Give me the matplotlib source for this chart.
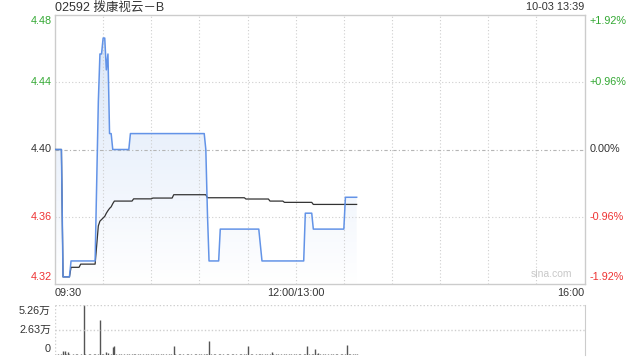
import numpy as np
import matplotlib
matplotlib.use("Agg")
import matplotlib.pyplot as plt
from matplotlib.colors import LinearSegmentedColormap
import matplotlib.transforms as mtransforms

# ---------------- data ----------------
title = "02592 拨康视云－B"
stamp = "10-03 13:39"
prev_close = 4.40
price_ticks = ["4.48", "4.44", "4.40", "4.36", "4.32"]
pct_ticks = ["+1.92%", "+0.96%", "0.00%", "-0.96%", "-1.92%"]
pct_steps = [0.0192, 0.0096, 0.0, -0.0096, -0.0192]
time_labels = ["09:30", "12:00/13:00", "16:00"]
time_pos = [0, 150, 330]          # trading minutes since 09:30
vol_ticks = ["5.26万", "2.63万", "0"]
vol_tick_vals = [5.26, 2.63, 0.0]

price = [
    4.40, 4.40, 4.40, 4.40, 4.40, 4.32, 4.32, 4.32, 4.32, 4.32,
    4.33, 4.33, 4.33, 4.33, 4.33, 4.33, 4.33, 4.33, 4.33, 4.33,
    4.33, 4.33, 4.33, 4.33, 4.33, 4.33, 4.38, 4.43, 4.46, 4.46,
    4.47, 4.47, 4.45, 4.46, 4.41, 4.41, 4.40, 4.40, 4.40, 4.40,
    4.40, 4.40, 4.40, 4.40, 4.40, 4.40, 4.40, 4.41, 4.41, 4.41,
    4.41, 4.41, 4.41, 4.41, 4.41, 4.41, 4.41, 4.41, 4.41, 4.41,
    4.41, 4.41, 4.41, 4.41, 4.41, 4.41, 4.41, 4.41, 4.41, 4.41,
    4.41, 4.41, 4.41, 4.41, 4.41, 4.41, 4.41, 4.41, 4.41, 4.41,
    4.41, 4.41, 4.41, 4.41, 4.41, 4.41, 4.41, 4.41, 4.41, 4.41,
    4.41, 4.41, 4.41, 4.41, 4.40, 4.36, 4.33, 4.33, 4.33, 4.33,
    4.33, 4.33, 4.33, 4.35, 4.35, 4.35, 4.35, 4.35, 4.35, 4.35,
    4.35, 4.35, 4.35, 4.35, 4.35, 4.35, 4.35, 4.35, 4.35, 4.35,
    4.35, 4.35, 4.35, 4.35, 4.35, 4.35, 4.35, 4.35, 4.34, 4.33,
    4.33, 4.33, 4.33, 4.33, 4.33, 4.33, 4.33, 4.33, 4.33, 4.33,
    4.33, 4.33, 4.33, 4.33, 4.33, 4.33, 4.33, 4.33, 4.33, 4.33,
    4.33, 4.33, 4.33, 4.33, 4.33, 4.33, 4.36, 4.36, 4.36, 4.36,
    4.36, 4.35, 4.35, 4.35, 4.35, 4.35, 4.35, 4.35, 4.35, 4.35,
    4.35, 4.35, 4.35, 4.35, 4.35, 4.35, 4.35, 4.35, 4.35, 4.35,
    4.35, 4.37, 4.37, 4.37, 4.37, 4.37, 4.37, 4.37, 4.37,
]

avg_price = [
    4.400, 4.400, 4.400, 4.400, 4.400, 4.320, 4.320, 4.320, 4.320, 4.320,
    4.326, 4.326, 4.326, 4.326, 4.326, 4.326, 4.328, 4.328, 4.328, 4.328,
    4.328, 4.328, 4.328, 4.328, 4.328, 4.328, 4.340, 4.352, 4.355, 4.356,
    4.357, 4.358, 4.360, 4.3616, 4.363, 4.364, 4.366, 4.3676, 4.3676, 4.3676,
    4.3676, 4.3676, 4.3676, 4.3676, 4.3676, 4.3676, 4.3676, 4.3676, 4.3676, 4.369,
    4.369, 4.369, 4.369, 4.369, 4.369, 4.369, 4.369, 4.369, 4.369, 4.369,
    4.369, 4.3695, 4.3695, 4.3695, 4.3695, 4.3695, 4.3695, 4.3695, 4.3695, 4.3695,
    4.3695, 4.3695, 4.3695, 4.3695, 4.3716, 4.3716, 4.3716, 4.3716, 4.3716, 4.3716,
    4.3716, 4.3716, 4.3716, 4.3716, 4.3716, 4.3716, 4.3716, 4.3716, 4.3716, 4.3716,
    4.3716, 4.3716, 4.3716, 4.3716, 4.3716, 4.3697, 4.3697, 4.3697, 4.3697, 4.3697,
    4.3697, 4.3697, 4.3697, 4.3697, 4.3697, 4.3697, 4.3697, 4.3697, 4.3697, 4.3697,
    4.3697, 4.3697, 4.3697, 4.3697, 4.3697, 4.3697, 4.3697, 4.3697, 4.3697, 4.3689,
    4.3689, 4.3689, 4.3689, 4.3689, 4.3689, 4.3689, 4.3689, 4.3689, 4.3689, 4.3689,
    4.3689, 4.3689, 4.3689, 4.3689, 4.3676, 4.3676, 4.3676, 4.3676, 4.3676, 4.3676,
    4.3676, 4.3676, 4.3676, 4.3668, 4.3668, 4.3668, 4.3668, 4.3668, 4.3668, 4.3668,
    4.3668, 4.3668, 4.3668, 4.3668, 4.3668, 4.3668, 4.3668, 4.3668, 4.3668, 4.3668,
    4.3668, 4.3655, 4.3655, 4.3655, 4.3655, 4.3655, 4.3655, 4.3655, 4.3655, 4.3655,
    4.3655, 4.3655, 4.3655, 4.3655, 4.3655, 4.3655, 4.3655, 4.3655, 4.3655, 4.3655,
    4.3655, 4.3655, 4.3655, 4.3655, 4.3655, 4.3655, 4.3655, 4.3655, 4.3655,
]

volume = [  # 万股 per minute
    0.08, 0.0, 0.10, 0.0, 0.08, 0.46, 0.46, 0.10, 0.35, 0.08,
    0.0, 0.10, 0.0, 0.08, 0.10, 0.0, 0.08, 0.0, 5.26, 0.10,
    0.0, 0.08, 0.10, 0.0, 0.08, 0.10, 0.0, 0.10, 3.66, 0.10,
    0.15, 0.0, 0.28, 0.20, 0.0, 0.10, 0.89, 0.99, 0.10, 0.0,
    0.08, 0.10, 0.0, 0.08, 0.0, 0.10, 0.08, 0.0, 0.10, 0.08,
    0.12, 0.0, 0.10, 0.08, 0.0, 0.10, 0.0, 0.08, 0.10, 0.0,
    0.08, 0.10, 0.0, 0.14, 0.10, 0.0, 0.10, 0.08, 0.0, 0.10,
    0.0, 0.08, 0.10, 0.0, 0.99, 0.10, 0.0, 0.08, 0.10, 0.0,
    0.08, 0.0, 0.10, 0.08, 0.0, 0.10, 0.0, 0.08, 0.10, 0.0,
    0.08, 0.10, 0.0, 0.08, 0.10, 0.10, 1.45, 0.10, 0.0, 0.08,
    0.10, 0.0, 0.08, 0.10, 0.0, 0.08, 0.0, 0.10, 0.08, 0.0,
    0.10, 0.08, 0.0, 0.10, 0.0, 0.08, 0.10, 0.0, 0.08, 0.10,
    0.99, 0.0, 0.10, 0.08, 0.0, 0.10, 0.0, 0.08, 0.10, 0.10,
    0.0, 0.08, 0.10, 0.0, 0.08, 0.35, 0.10, 0.0, 0.08, 0.10,
    0.0, 0.08, 0.0, 0.10, 0.08, 0.0, 0.10, 0.08, 0.0, 0.10,
    0.08, 0.0, 0.10, 0.08, 0.0, 0.10, 0.10, 0.99, 0.10, 0.0,
    0.08, 0.10, 0.67, 0.10, 0.25, 0.08, 0.0, 0.10, 0.08, 0.0,
    0.10, 0.0, 0.08, 0.10, 0.0, 0.08, 0.10, 0.0, 0.08, 0.10,
    0.0, 0.10, 1.10, 0.08, 0.10, 0.0, 0.08, 0.10, 0.08,
]

# ---------------- style ----------------
FONT = ["Liberation Sans", "Noto Sans CJK SC", "DejaVu Sans"]
plt.rcParams["font.family"] = FONT
GREEN = "#33a833"
RED = "#ee3333"
DARK = "#333333"
GRID = "#cfcfcf"
BORDER = "#cccccc"
LINE = "#5b8ee6"
FS = 7.8

W, H = 640, 360
fig = plt.figure(figsize=(W / 100, H / 100), dpi=100)
fig.patch.set_facecolor("white")

def px_rect(l, t, r, b):
    return [l / W, 1 - b / H, (r - l) / W, (b - t) / H]

ax = fig.add_axes(px_rect(55, 15, 584.5, 284))
axv = fig.add_axes(px_rect(55, 305, 584.5, 355))

minutes = np.arange(len(price))
half = prev_close * 0.0192
ymin, ymax = prev_close - half, prev_close + half

# gradient fill under the price line
poly = ax.fill_between(minutes, price, ymin, facecolor="none", edgecolor="none", lw=0)
clip = poly.get_paths()[0]
cmap = LinearSegmentedColormap.from_list("g", ["#ffffff", "#d8e5f9"])
grad = np.linspace(1, 0, 256).reshape(-1, 1)
img = ax.imshow(grad, extent=[0, 330, ymin, ymax], aspect="auto", origin="upper",
                cmap=cmap, zorder=1, interpolation="bilinear")
img.set_clip_path(clip, transform=ax.transData)

# grid
for m in range(30, 330, 30):
    ax.axvline(m, color=GRID, lw=0.8, ls=(0, (1, 2)), zorder=2)
for s in (0.0096, -0.0096):
    ax.axhline(prev_close * (1 + s), color=GRID, lw=0.8, ls=(0, (1, 2)), zorder=2)
ax.axhline(prev_close, color="#b5b5b5", lw=0.8, ls=(0, (3, 2, 1, 2)), zorder=2)

ax.plot(minutes, avg_price, color="#333333", lw=0.9, zorder=3)
ax.plot(minutes, price, color=LINE, lw=1.1, zorder=4, alpha=0.95)

ax.set_xlim(0, 330)
ax.set_ylim(ymin, ymax)
ax.set_xticks([])
ax.set_yticks([])
for sp in ax.spines.values():
    sp.set_color(BORDER)
    sp.set_linewidth(1)

# y labels
ytr = ax.get_yaxis_transform()
colors = [GREEN, GREEN, DARK, RED, RED]
for i, (lab, pl, s) in enumerate(zip(price_ticks, pct_ticks, pct_steps)):
    yv = prev_close * (1 + s)
    va = "center"
    dy = 0
    if i == 0:
        va, dy = "top", -1
    elif i == len(price_ticks) - 1:
        va, dy = "bottom", 2
    t1 = mtransforms.offset_copy(ytr, fig=fig, x=-3, y=dy, units="dots")
    t2 = mtransforms.offset_copy(ytr, fig=fig, x=5, y=dy, units="dots")
    ax.text(0, yv, lab, transform=t1, ha="right", va=va, fontsize=FS, color=colors[i])
    ax.text(1, yv, pl, transform=t2, ha="left", va=va, fontsize=FS, color=colors[i])

# x labels
xtr = ax.get_xaxis_transform()
xoff = mtransforms.offset_copy(xtr, fig=fig, x=0, y=-9, units="dots")
has = ["left", "center", "right"]
for lab, m, ha in zip(time_labels, time_pos, has):
    ax.text(m, 0, lab, transform=xoff, ha=ha, va="center", fontsize=FS, color=DARK)

# header texts
fig.text(55 / W, 1 - 7.5 / H, title, ha="left", va="center", fontsize=9, color=DARK)
fig.text(584 / W, 1 - 7.5 / H, stamp, ha="right", va="center", fontsize=FS, color=DARK)
ax.text(0.938, 0.02, "sina.com", transform=ax.transAxes, ha="center", va="bottom",
        fontsize=7.5, color="#c8c8c8")

# volume
axv.vlines(minutes, 0, volume, color="#555555", lw=1.0)
axv.set_xlim(0, 330)
axv.set_ylim(0, 5.26)
axv.set_xticks([])
axv.set_yticks([])
for k in ("left", "top", "bottom"):
    axv.spines[k].set_visible(False)
axv.spines["right"].set_color(BORDER)
axv.axhline(5.26, color=GRID, lw=1.0, ls=(0, (1, 1.5)))
axv.axhline(2.63, color=GRID, lw=1.0, ls=(0, (1, 1.5)))
axv.axvline(0, color=GRID, lw=1.0, ls=(0, (1, 1.5)))
vtr = axv.get_yaxis_transform()
for i, (lab, v) in enumerate(zip(vol_ticks, vol_tick_vals)):
    va, dy = "center", 0
    if i == 0:
        va, dy = "top", -1
    elif i == len(vol_ticks) - 1:
        va, dy = "bottom", 1
    t = mtransforms.offset_copy(vtr, fig=fig, x=-4, y=dy, units="dots")
    axv.text(0, v, lab, transform=t, ha="right", va=va, fontsize=FS, color=DARK)

fig.savefig("out.png", dpi=100)
